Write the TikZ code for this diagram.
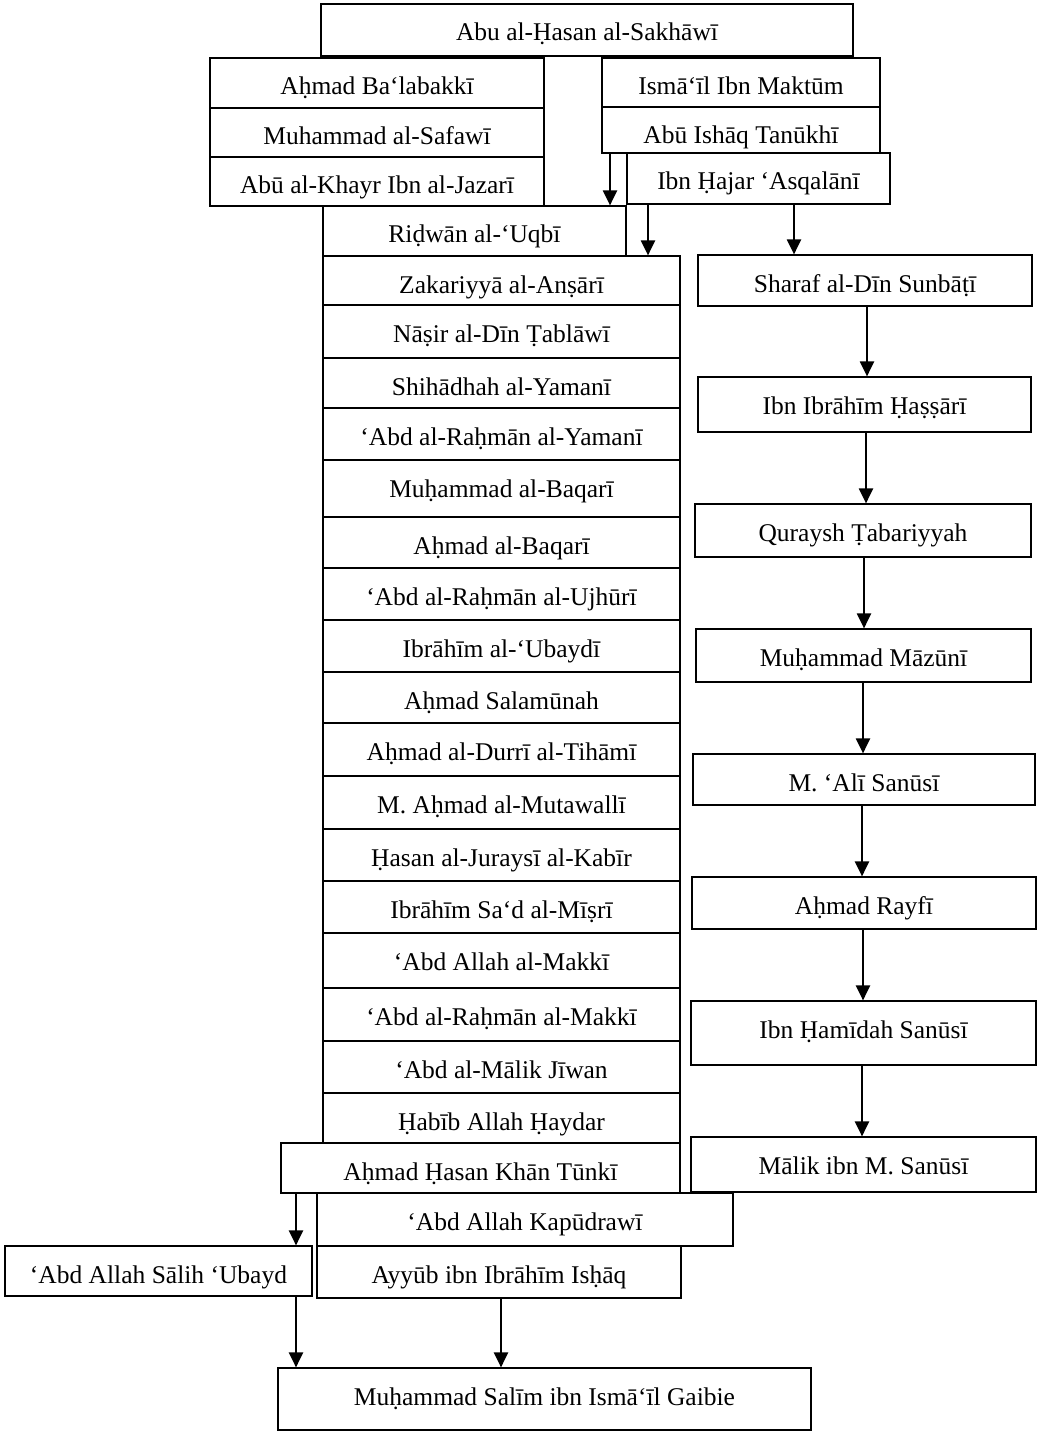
\documentclass[tikz,border=0pt]{standalone}
\usepackage{fontspec}
\setmainfont{Liberation Serif}
\usetikzlibrary{arrows.meta}
\tikzset{
  box/.style={draw=black, fill=white, line width=1.2pt, inner sep=0pt, rectangle},
  lbl/.style={anchor=base, inner sep=0pt, font=\fontsize{25.5}{30}\selectfont},
  arr/.style={line width=2.2pt, -{Triangle[length=15pt,width=14pt]}}
}
\newcommand{\chainbox}[6]{%
  \node[box, minimum width={(#3-#2)*1pt}, minimum height={(#5-#4)*1pt}] (#1) at ({(#2+#3)/2},{(#4+#5)/2}) {};
  \node[lbl] (#1-t) at ({(#2+#3)/2},{#4+37}) {#6};
}
\begin{document}
\begin{tikzpicture}[x=1pt,y=-1pt]
\fill[white] (0,0) rectangle (1037,1431);
\useasboundingbox (0,0) rectangle (1037,1431);
% top
\chainbox{sakh}{321}{853}{4}{56}{Abu al-Ḥasan al-Sakhāwī}
\chainbox{balab}{210}{544}{58}{108}{Aḥmad Ba‘labakkī}
\chainbox{safawi}{210}{544}{108}{157}{Muhammad al-Safawī}
\chainbox{khayr}{210}{544}{157}{206}{Abū al-Khayr Ibn al-Jazarī}
\chainbox{maktum}{602}{880}{58}{107}{Ismā‘īl Ibn Maktūm}
\chainbox{tanukhi}{602}{880}{107}{153}{Abū Ishāq Tanūkhī}
\chainbox{hajar}{627}{890}{153}{204}{Ibn Ḥajar ‘Asqalānī}
\chainbox{ridwan}{323}{626}{206}{256}{Riḍwān al-‘Uqbī}
% middle column
\chainbox{zakariyya}{323}{680}{256}{305}{Zakariyyā al-Anṣārī}
\chainbox{nasir}{323}{680}{305}{358}{Nāṣir al-Dīn Ṭablāwī}
\chainbox{shihadhah}{323}{680}{358}{408}{Shihādhah al-Yamanī}
\chainbox{yamani}{323}{680}{408}{460}{‘Abd al-Raḥmān al-Yamanī}
\chainbox{mbaqari}{323}{680}{460}{517}{Muḥammad al-Baqarī}
\chainbox{abaqari}{323}{680}{517}{568}{Aḥmad al-Baqarī}
\chainbox{ujhuri}{323}{680}{568}{620}{‘Abd al-Raḥmān al-Ujhūrī}
\chainbox{ubaydi}{323}{680}{620}{672}{Ibrāhīm al-‘Ubaydī}
\chainbox{salamunah}{323}{680}{672}{723}{Aḥmad Salamūnah}
\chainbox{durri}{323}{680}{723}{776}{Aḥmad al-Durrī al-Tihāmī}
\chainbox{mutawalli}{323}{680}{776}{829}{M. Aḥmad al-Mutawallī}
\chainbox{juraysi}{323}{680}{829}{881}{Ḥasan al-Juraysī al-Kabīr}
\chainbox{misri}{323}{680}{881}{933}{Ibrāhīm Sa‘d al-Mīṣrī}
\chainbox{amakki}{323}{680}{933}{988}{‘Abd Allah al-Makkī}
\chainbox{rmakki}{323}{680}{988}{1041}{‘Abd al-Raḥmān al-Makkī}
\chainbox{jiwan}{323}{680}{1041}{1093}{‘Abd al-Mālik Jīwan}
\chainbox{haydar}{323}{680}{1093}{1143}{Ḥabīb Allah Ḥaydar}
\chainbox{tunki}{281}{680}{1143}{1193}{Aḥmad Ḥasan Khān Tūnkī}
\chainbox{kapudrawi}{317}{733}{1193}{1246}{‘Abd Allah Kapūdrawī}
\chainbox{ayyub}{317}{681}{1246}{1298}{Ayyūb ibn Ibrāhīm Isḥāq}
\chainbox{ubayd}{5}{312}{1246}{1296}{‘Abd Allah Sālih ‘Ubayd}
\chainbox{gaibie}{278}{811}{1368}{1430}{Muḥammad Salīm ibn Ismā‘īl Gaibie}
% right column
\chainbox{sunbati}{698}{1032}{255}{306}{Sharaf al-Dīn Sunbāṭī}
\chainbox{hassari}{698}{1031}{377}{432}{Ibn Ibrāhīm Ḥaṣṣārī}
\chainbox{quraysh}{695}{1031}{504}{557}{Quraysh Ṭabariyyah}
\chainbox{mazuni}{696}{1031}{629}{682}{Muḥammad Māzūnī}
\chainbox{alisanusi}{693}{1035}{754}{805}{M. ‘Alī Sanūsī}
\chainbox{rayfi}{692}{1036}{877}{929}{Aḥmad Rayfī}
\chainbox{hamidah}{691}{1036}{1001}{1065}{Ibn Ḥamīdah Sanūsī}
\chainbox{malik}{691}{1036}{1137}{1192}{Mālik ibn M. Sanūsī}
% arrow columns
\coordinate (xa) at (610,0);
\coordinate (xb) at (648,0);
\coordinate (xc) at (794,0);
\coordinate (r1) at (867,0);
\coordinate (r2) at (866,0);
\coordinate (r3) at (864,0);
\coordinate (r4) at (863,0);
\coordinate (r5) at (862,0);
\coordinate (r6) at (863,0);
\coordinate (r7) at (862,0);
\coordinate (xl) at (296,0);
\coordinate (xm) at (501,0);
% arrows
\draw[arr] (tanukhi.south -| xa) -- (ridwan.north -| xa);
\draw[arr] (hajar.south -| xb) -- (zakariyya.north -| xb);
\draw[arr] (hajar.south -| xc) -- (sunbati.north -| xc);
\draw[arr] (sunbati.south -| r1) -- (hassari.north -| r1);
\draw[arr] (hassari.south -| r2) -- (quraysh.north -| r2);
\draw[arr] (quraysh.south -| r3) -- (mazuni.north -| r3);
\draw[arr] (mazuni.south -| r4) -- (alisanusi.north -| r4);
\draw[arr] (alisanusi.south -| r5) -- (rayfi.north -| r5);
\draw[arr] (rayfi.south -| r6) -- (hamidah.north -| r6);
\draw[arr] (hamidah.south -| r7) -- (malik.north -| r7);
\draw[arr] (tunki.south -| xl) -- (ubayd.north -| xl);
\draw[arr] (ubayd.south -| xl) -- (gaibie.north -| xl);
\draw[arr] (ayyub.south -| xm) -- (gaibie.north -| xm);
\end{tikzpicture}
\end{document}
